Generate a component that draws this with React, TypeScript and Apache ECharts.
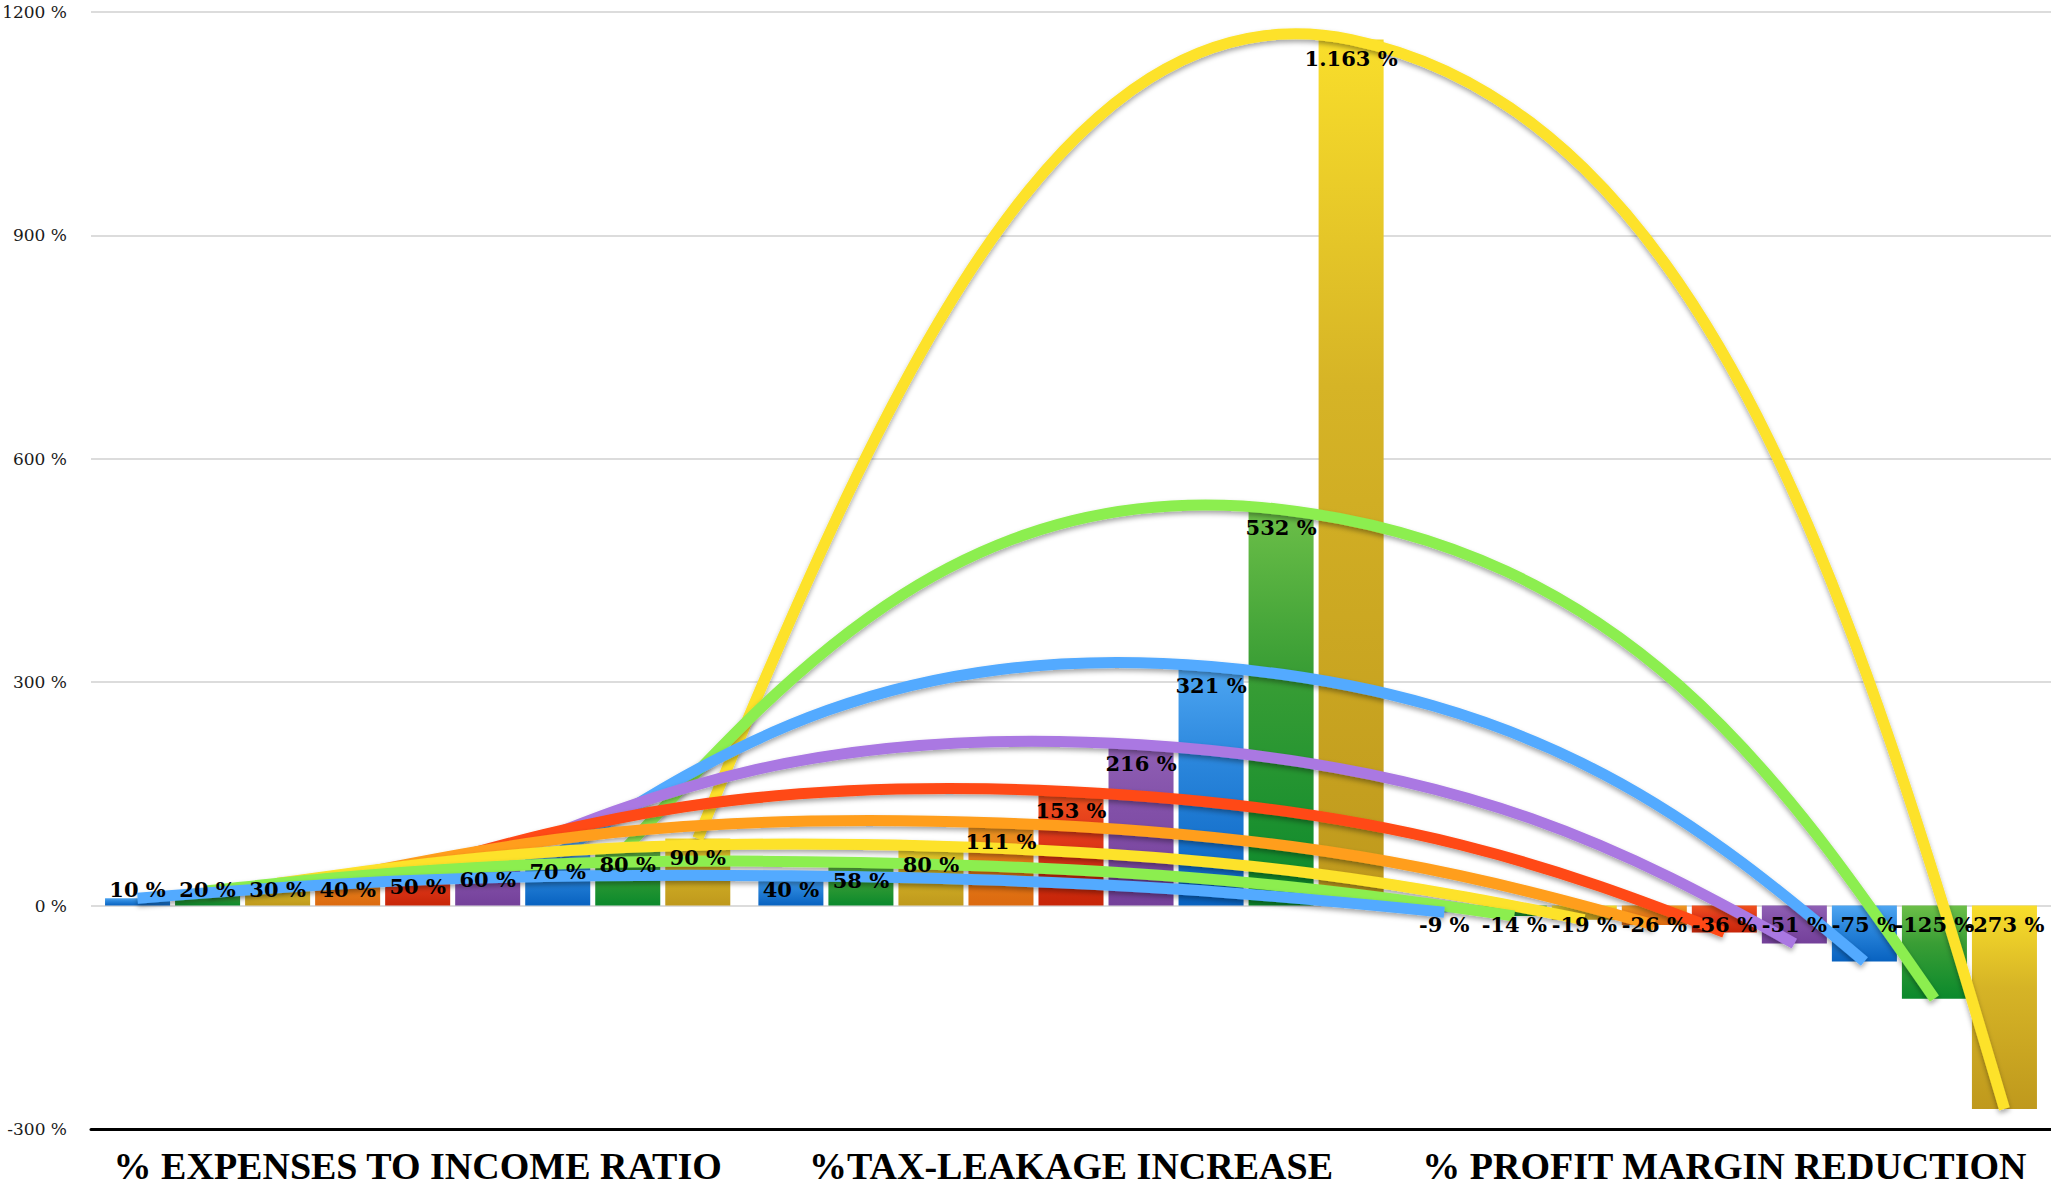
import React, { useEffect, useRef } from "react";
import * as echarts from "echarts";

// ---- data ----
const categories = [
  "% EXPENSES TO INCOME RATIO",
  "%TAX-LEAKAGE INCREASE",
  "% PROFIT MARGIN REDUCTION",
];
const seriesNames = ["10 %", "20 %", "30 %", "40 %", "50 %", "60 %", "70 %", "80 %", "90 %"];
const expenseRatio = [10, 20, 30, 40, 50, 60, 70, 80, 90];
const taxLeakage = [40, 58, 80, 111, 153, 216, 321, 532, 1163];
const marginReduction = [-9, -14, -19, -26, -36, -51, -75, -125, -273];
const yMin = -300;
const yMax = 1200;
const yInterval = 300;

// ---- styles ----
const barGradients: string[][] = [
  ["#4ea6f2", "#2a86dc", "#0862c0"], // blue
  ["#6cbf48", "#3a9e35", "#0b892c"], // green
  ["#f9de2b", "#d6b426", "#bf991d"], // gold
  ["#f19a22", "#e67d18", "#dc6a10"], // orange
  ["#f0521e", "#e0381a", "#c72508"], // red
  ["#9060b5", "#8250a8", "#74409a"], // purple
];
const lineColors = ["#52aaff", "#8cee50", "#fde22a", "#ff9e1c", "#ff4a14", "#aa78e2"];
const CAT_GAP = 0.043;
const BAR_GAP = 0.077;
const SMOOTH = 0.5;

const fmt = (v: number) =>
  String(v).replace(/\B(?=(\d{3})+(?!\d))/g, ".") + " %";

// smoothed path through pixel points (Excel-like rounded curve)
function smoothPath(pts: number[][]): string {
  const m = pts.length;
  const cpIn: number[][] = pts.map((p) => [p[0], p[1]]);
  const cpOut: number[][] = pts.map((p) => [p[0], p[1]]);
  for (let i = 1; i < m - 1; i++) {
    const prev = pts[i - 1];
    const p = pts[i];
    const next = pts[i + 1];
    const vx = next[0] - prev[0];
    const vy = next[1] - prev[1];
    const d0 = Math.hypot(p[0] - prev[0], p[1] - prev[1]);
    const d1 = Math.hypot(next[0] - p[0], next[1] - p[1]);
    const r0 = d0 / (d0 + d1 || 1);
    const r1 = d1 / (d0 + d1 || 1);
    cpIn[i] = [p[0] - vx * SMOOTH * r0, p[1] - vy * SMOOTH * r0];
    cpOut[i] = [p[0] + vx * SMOOTH * r1, p[1] + vy * SMOOTH * r1];
  }
  if (m > 2) {
    cpOut[0] = [pts[0][0] + 0.5 * (cpIn[1][0] - pts[0][0]), pts[0][1] + 0.5 * (cpIn[1][1] - pts[0][1])];
    const L = m - 1;
    cpIn[L] = [pts[L][0] + 0.5 * (cpOut[L - 1][0] - pts[L][0]), pts[L][1] + 0.5 * (cpOut[L - 1][1] - pts[L][1])];
  }
  let d = `M${pts[0][0]},${pts[0][1]}`;
  for (let i = 0; i < m - 1; i++) {
    d += ` C${cpOut[i][0]},${cpOut[i][1]} ${cpIn[i + 1][0]},${cpIn[i + 1][1]} ${pts[i + 1][0]},${pts[i + 1][1]}`;
  }
  return d;
}

export default function App() {
  const ref = useRef<HTMLDivElement>(null);
  useEffect(() => {
    if (!ref.current) return;
    const chart = echarts.init(ref.current, null, { renderer: "svg" });
    const n = seriesNames.length;
    const w = (1 - CAT_GAP) / (n + (n - 1) * BAR_GAP);
    const widthSum = n * w + (n - 1) * w * BAR_GAP;
    const offsetOf = (i: number) => -widthSum / 2 + i * w * (1 + BAR_GAP) + w / 2;

    const valuesOf = (i: number) => [expenseRatio[i], taxLeakage[i], marginReduction[i]];

    const series: any[] = [];
    // visible bars
    for (let i = 0; i < n; i++) {
      const g = barGradients[i % barGradients.length];
      series.push({
        type: "bar",
        name: seriesNames[i],
        xAxisIndex: 0,
        yAxisIndex: 0,
        barCategoryGap: CAT_GAP * 100 + "%",
        barGap: BAR_GAP * 100 + "%",
        z: 2,
        itemStyle: {
          color: new echarts.graphic.LinearGradient(0, 0, 0, 1, [
            { offset: 0, color: g[0] },
            { offset: 0.4, color: g[1] },
            { offset: 1, color: g[2] },
          ]),
        },
        data: valuesOf(i),
      });
    }
    // smoothed curves through bar tops (custom series using the axes' scales)
    for (let i = 0; i < n; i++) {
      const vals = valuesOf(i);
      const color = lineColors[i % lineColors.length];
      const row: number[] = [];
      vals.forEach((v, c) => {
        row.push(c + 0.5 + offsetOf(i), v);
      });
      series.push({
        type: "custom",
        name: seriesNames[i] + " trend",
        xAxisIndex: 1,
        yAxisIndex: 0,
        z: 20 - i,
        silent: true,
        encode: { x: [0, 2, 4], y: [1, 3, 5] },
        data: [row],
        renderItem: (params: any, api: any) => {
          const pts: number[][] = [];
          for (let k = 0; k < 3; k++) {
            pts.push(api.coord([api.value(2 * k), api.value(2 * k + 1)]));
          }
          return {
            type: "path",
            shape: { pathData: smoothPath(pts) },
            style: {
              fill: "none",
              stroke: color,
              lineWidth: 11,
              lineCap: "butt",
              shadowColor: "rgba(0,0,0,0.35)",
              shadowBlur: 5,
              shadowOffsetY: 3,
            },
          };
        },
      });
    }
    // label carriers (transparent bars above the curves)
    for (let i = 0; i < n; i++) {
      const vals = valuesOf(i);
      series.push({
        type: "bar",
        name: seriesNames[i] + " label",
        xAxisIndex: 2,
        yAxisIndex: 0,
        silent: true,
        barCategoryGap: CAT_GAP * 100 + "%",
        barGap: BAR_GAP * 100 + "%",
        z: 30,
        itemStyle: { color: "rgba(0,0,0,0)" },
        data: vals.map((v) => ({
          value: v,
          label: {
            show: true,
            position: v > 0 && v < 50 ? "insideBottom" : "insideTop",
            distance: v > 0 && v < 50 ? 6 : 8,
            formatter: (p: any) => fmt(p.value),
            color: "#000",
            fontFamily: "DejaVu Serif",
            fontWeight: "bold",
            fontSize: 21,
            textBorderWidth: 0,
          },
        })),
      });
    }

    chart.setOption({
      animation: false,
      backgroundColor: "#fff",
      grid: { left: 91, right: 0, top: 12, bottom: 57, containLabel: false, outerBoundsMode: "none" },
      xAxis: [
        {
          type: "category",
          data: categories,
          position: "bottom",
          axisLine: { onZero: false, lineStyle: { color: "#000", width: 3 } },
          axisTick: { show: false },
          splitLine: { show: false },
          axisLabel: {
            interval: 0,
            fontFamily: "Liberation Serif",
            fontWeight: "bold",
            fontSize: 38,
            lineHeight: 38,
            color: "#000",
            margin: 18,
          },
        },
        { type: "value", min: 0, max: 3, show: false, position: "top" },
        { type: "category", data: categories, show: false, position: "bottom" },
      ],
      yAxis: {
        type: "value",
        min: yMin,
        max: yMax,
        interval: yInterval,
        axisLine: { show: false },
        axisTick: { show: false },
        splitLine: { lineStyle: { color: "#d0d0d0", width: 1.5 } },
        axisLabel: {
          formatter: (v: number) => v + " %",
          fontFamily: "DejaVu Serif",
          fontSize: 17,
          color: "#1a1a1a",
          margin: 24,
        },
      },
      series,
    });
    return () => chart.dispose();
  }, []);
  return (
    <div
      ref={ref}
      style={{ position: "absolute", left: 0, top: 0, width: 2051, height: 1186 }}
    />
  );
}
